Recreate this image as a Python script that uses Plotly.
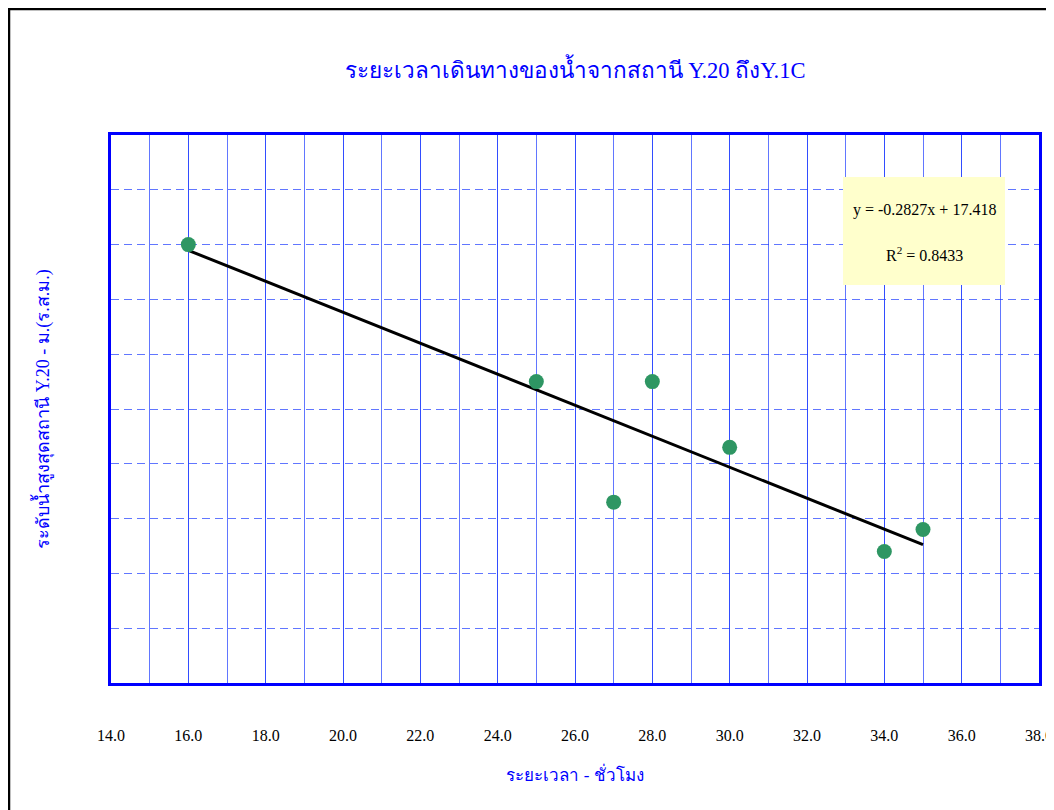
import numpy as np
import plotly.graph_objects as go

# Data
travel_hours = [16, 25, 27, 28, 30, 34, 35]
peak_level = [13.0, 10.5, 8.3, 10.5, 9.3, 7.4, 7.8]
x_tick_vals = [14, 16, 18, 20, 22, 24, 26, 28, 30, 32, 34, 36, 38]
x_tick_text = ["14.0", "16.0", "18.0", "20.0", "22.0", "24.0", "26.0",
               "28.0", "30.0", "32.0", "34.0", "36.0", "38.0"]

title_text = "ระยะเวลาเดินทางของน้ำจากสถานี Y.20 ถึงY.1C"
x_title = "ระยะเวลา - ชั่วโมง"
y_title = "ระดับน้ำสูงสุดสถานี Y.20 - ม.(ร.ส.ม.)"

# Linear trend
slope, intercept = np.polyfit(travel_hours, peak_level, 1)
pred = np.polyval([slope, intercept], travel_hours)
ss_res = np.sum((np.array(peak_level) - pred) ** 2)
ss_tot = np.sum((np.array(peak_level) - np.mean(peak_level)) ** 2)
r2 = 1 - ss_res / ss_tot
trend_x = [min(travel_hours), max(travel_hours)]
trend_y = list(np.polyval([slope, intercept], trend_x))

serif = "Liberation Serif, Times New Roman, serif"
blue = "#0000FF"
grid_col = "rgba(30,60,255,0.7)"

W, H = 1046, 802
ML, MT, PW, PH = 103, 127, 928, 548

fig = go.Figure()
fig.add_trace(go.Scatter(x=trend_x, y=trend_y, mode="lines",
                         line=dict(color="black", width=3), hoverinfo="skip",
                         showlegend=False))
fig.add_trace(go.Scatter(x=travel_hours, y=peak_level, mode="markers",
                         marker=dict(color="#2E9663", size=15),
                         showlegend=False))

fig.update_layout(
    width=W, height=H,
    margin=dict(l=ML, r=W - ML - PW, t=MT, b=H - MT - PH, autoexpand=False),
    paper_bgcolor="white", plot_bgcolor="white",
    title=dict(text=title_text, xref="paper", x=0.5, xanchor="center",
               y=1 - 62 / H, yanchor="middle",
               font=dict(family=serif, size=22.5, color=blue)),
    font=dict(family=serif),
)
fig.update_xaxes(
    range=[14, 38], tickvals=x_tick_vals, ticktext=x_tick_text,
    tickfont=dict(family=serif, size=16, color="black"),
    ticks="", ticklabelstandoff=36, automargin=False,
    showgrid=True, gridcolor=grid_col, gridwidth=1,
    minor=dict(dtick=1, showgrid=True, gridcolor=grid_col, gridwidth=1),
    showline=True, linecolor=blue, linewidth=3, mirror=True,
    zeroline=False,
    title=dict(text=x_title, standoff=26,
               font=dict(family=serif, size=17, color=blue)),
)
fig.update_yaxes(
    range=[5, 15], dtick=1, showticklabels=False, ticks="", automargin=False,
    showgrid=True, gridcolor=grid_col, gridwidth=1, griddash="8px,5px",
    showline=True, linecolor=blue, linewidth=3, mirror=True,
    zeroline=False,
    title=dict(text=y_title, standoff=54,
               font=dict(family=serif, size=18, color=blue)),
)

# Outer chart frame
fig.add_shape(type="rect", xref="paper", yref="paper",
              x0=(1 - ML) / PW, x1=1.2, y0=-0.5, y1=(MT + PH - 1) / PH,
              line=dict(color="black", width=2.5), fillcolor="rgba(0,0,0,0)",
              layer="below")

# Equation box
fig.add_shape(type="rect", xref="paper", yref="paper",
              x0=(843 - 111) / PW, x1=(1005 - 111) / PW,
              y0=(683 - 285) / PH, y1=(683 - 177) / PH,
              line=dict(width=0), fillcolor="#FFFFCC", layer="above")
fig.add_annotation(xref="paper", yref="paper", x=(924 - 111) / PW,
                   y=(683 - 210) / PH, showarrow=False,
                   xanchor="center", yanchor="middle",
                   text=f"y = {slope:.4f}x + {intercept:.3f}",
                   font=dict(family=serif, size=16, color="black"))
fig.add_annotation(xref="paper", yref="paper", x=(924 - 111) / PW,
                   y=(683 - 254) / PH, showarrow=False,
                   xanchor="center", yanchor="middle",
                   text=f"R<sup>2</sup> = {r2:.4f}",
                   font=dict(family=serif, size=16, color="black"))

fig.write_html("out.html")
